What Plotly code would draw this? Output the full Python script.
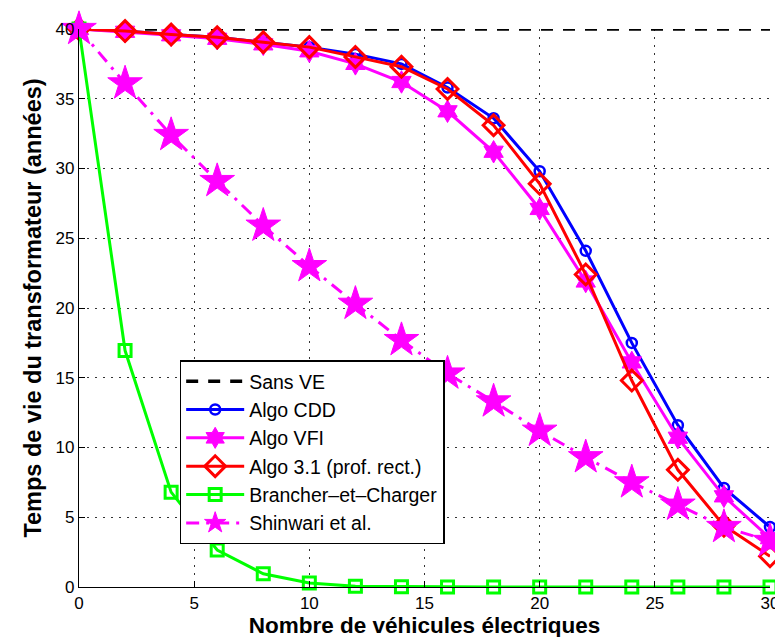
import plotly.graph_objects as go

x_vals = [0, 2, 4, 6, 8, 10, 12, 14, 16, 18, 20, 22, 24, 26, 28, 30]
sans_ve = [40] * 16
algo_cdd = [40, 39.85, 39.6, 39.4, 39.05, 38.7, 38.2, 37.5, 35.8, 33.6, 29.8, 24.1, 17.5, 11.6, 7.1, 4.3]
algo_vfi = [40, 39.8, 39.55, 39.3, 38.9, 38.4, 37.5, 36.2, 34.1, 31.2, 27.1, 21.9, 16.1, 10.7, 6.5, 3.5]
algo_31 = [40, 39.85, 39.6, 39.4, 39.05, 38.7, 38.0, 37.3, 35.7, 33.1, 28.9, 22.4, 14.8, 8.4, 4.4, 2.2]
brancher = [40, 16.95, 6.8, 2.65, 0.95, 0.28, 0.05, 0.02, 0, 0, 0, 0, 0, 0, 0, 0]
shinwari = [40, 36.1, 32.4, 29.1, 25.9, 23.0, 20.3, 17.7, 15.3, 13.3, 11.2, 9.3, 7.5, 5.9, 4.3, 3.3]

x_ticks = [0, 5, 10, 15, 20, 25, 30]
y_ticks = [0, 5, 10, 15, 20, 25, 30, 35, 40]

FONT = "Liberation Sans, Arial, Helvetica, sans-serif"

fig = go.Figure()

fig.add_trace(go.Scatter(
    x=x_vals, y=sans_ve, name="Sans VE", mode="lines",
    line=dict(color="black", width=3.5, dash="12px,10px"),
    cliponaxis=False))

fig.add_trace(go.Scatter(
    x=x_vals, y=algo_cdd, name="Algo CDD", mode="lines+markers",
    line=dict(color="#0000FF", width=3),
    marker=dict(symbol="circle-open", size=10, color="#0000FF", line=dict(width=2.5, color="#0000FF")),
    cliponaxis=False))

fig.add_trace(go.Scatter(
    x=x_vals, y=algo_vfi, name="Algo VFI", mode="lines+markers",
    line=dict(color="#FF00FF", width=3),
    marker=dict(symbol="hexagram", size=17, color="#FF00FF", line=dict(width=1, color="#FF00FF")),
    cliponaxis=False))

fig.add_trace(go.Scatter(
    x=x_vals, y=algo_31, name="Algo 3.1 (prof. rect.)", mode="lines+markers",
    line=dict(color="#FF0000", width=3),
    marker=dict(symbol="diamond-open", size=16, color="#FF0000", line=dict(width=3, color="#FF0000")),
    cliponaxis=False))

fig.add_trace(go.Scatter(
    x=x_vals, y=brancher, name="Brancher\u2013et\u2013Charger", mode="lines+markers",
    line=dict(color="#00FF00", width=3),
    marker=dict(symbol="square-open", size=12, color="#00FF00", line=dict(width=3, color="#00FF00")),
    cliponaxis=False))

fig.add_trace(go.Scatter(
    x=x_vals, y=shinwari, name="Shinwari et al.", mode="lines+markers",
    line=dict(color="#FF00FF", width=3, dash="13px,7px,3px,7px"),
    marker=dict(symbol="star", size=26, color="#FF00FF", line=dict(width=1, color="#FF00FF")),
    cliponaxis=False))

fig.update_layout(
    width=783, height=637,
    margin=dict(l=71, r=12, t=15, b=58),
    paper_bgcolor="white", plot_bgcolor="white",
    font=dict(family=FONT, color="black", size=17),
    showlegend=True,
    legend=dict(
        x=0.1457, y=0.406, xanchor="left", yanchor="top",
        bgcolor="white", bordercolor="black", borderwidth=1.5,
        font=dict(family=FONT, size=19.5, color="black"),
        itemwidth=58, tracegroupgap=0,
    ),
    xaxis=dict(
        range=[0, 30], tickvals=x_ticks, ticktext=[str(v) for v in x_ticks],
        showline=True, linecolor="black", linewidth=1.2,
        ticks="inside", ticklen=6, tickcolor="black",
        showgrid=True, gridcolor="#333333", griddash="2px,6px", gridwidth=1,
        zeroline=False,
        tickfont=dict(size=17),
        title=dict(text="<b>Nombre de véhicules électriques</b>", font=dict(size=22.5), standoff=3),
    ),
    yaxis=dict(
        range=[0, 40], tickvals=y_ticks, ticktext=[str(v) for v in y_ticks],
        showline=True, linecolor="black", linewidth=1.2,
        ticks="inside", ticklen=6, tickcolor="black",
        showgrid=True, gridcolor="#333333", griddash="2px,6px", gridwidth=1,
        zeroline=False,
        tickfont=dict(size=17),
        title=dict(text="<b>Temps de vie du transformateur (années)</b>", font=dict(size=23.5), standoff=7),
    ),
)

fig.write_html("out.html")
